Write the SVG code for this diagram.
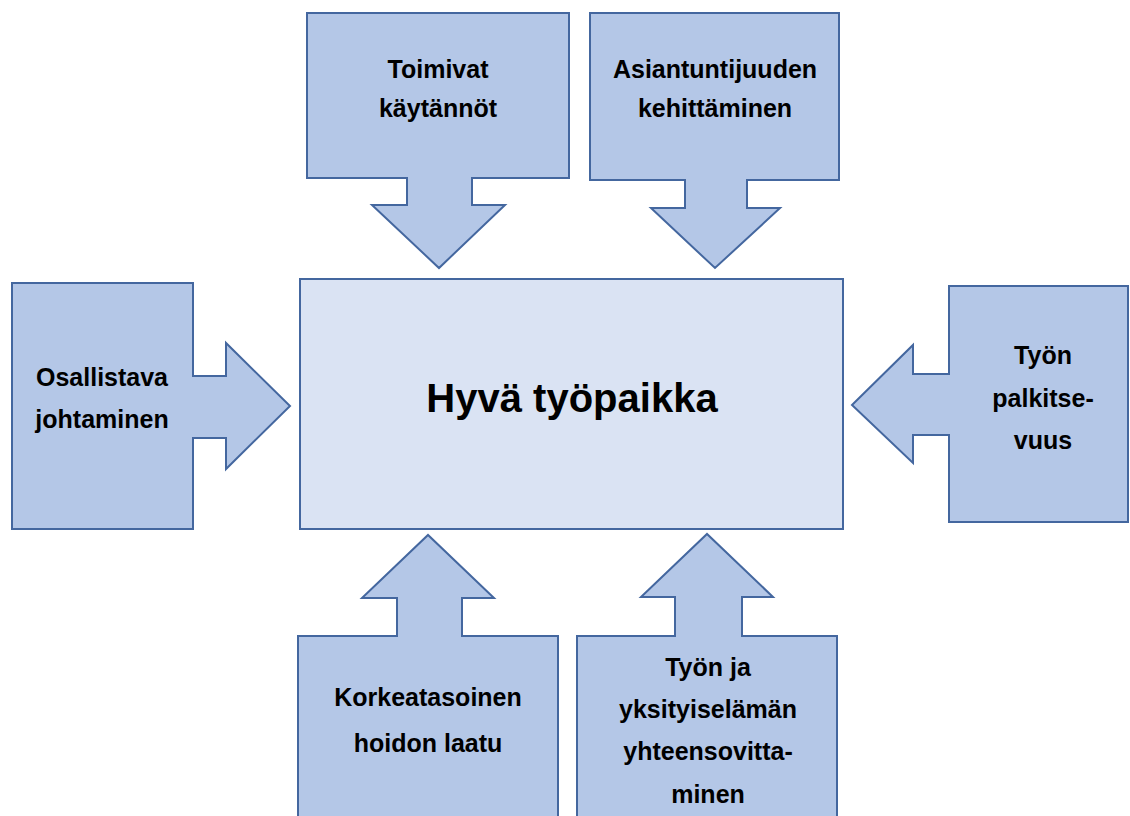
<svg xmlns="http://www.w3.org/2000/svg" width="1130" height="816" viewBox="0 0 1130 816">
<style>
.c{fill:#B4C7E7;stroke:#44679F;stroke-width:2;stroke-linejoin:miter}
.m{fill:#DAE3F3;stroke:#44679F;stroke-width:2}
text{font-family:"Liberation Sans",Arial,sans-serif;font-weight:bold;fill:#000;text-anchor:middle}
.s{font-size:25px}
.b{font-size:40px}
</style>
<rect width="1130" height="816" fill="#fff"/>
<g id="center">
<rect class="m" x="300" y="279" width="543" height="250"/>
<text class="b" x="572" y="412">Hyvä työpaikka</text>
</g>
<g id="connectors"></g>
<g id="toimivat">
<polygon class="c" points="307,13 569,13 569,178 472,178 472,205 505,205 439,268 372,205 407,205 407,178 307,178"/>
<text class="s" x="438" y="78">Toimivat</text>
<text class="s" x="438" y="117">käytännöt</text>
</g>
<g id="asiantuntijuus">
<polygon class="c" points="590,13 839,13 839,180 747,180 747,208 780,208 715,268 651,208 685,208 685,180 590,180"/>
<text class="s" x="715" y="78">Asiantuntijuuden</text>
<text class="s" x="715" y="117">kehittäminen</text>
</g>
<g id="osallistava">
<polygon class="c" points="12,283 193,283 193,376 226,376 226,343 290,406 226,469 226,438 193,438 193,529 12,529"/>
<text class="s" x="102" y="386">Osallistava</text>
<text class="s" x="102" y="428">johtaminen</text>
</g>
<g id="palkitsevuus">
<polygon class="c" points="949,286 1128,286 1128,522 949,522 949,435 913,435 913,463 852,405 913,345 913,374 949,374"/>
<text class="s" x="1043" y="364">Työn</text>
<text class="s" x="1043" y="407">palkitse-</text>
<text class="s" x="1043" y="449">vuus</text>
</g>
<g id="hoidon-laatu">
<polygon class="c" points="298,636 397,636 397,598 362,598 428,535 494,598 462,598 462,636 558,636 558,822 298,822"/>
<text class="s" x="428" y="706">Korkeatasoinen</text>
<text class="s" x="428" y="752">hoidon laatu</text>
</g>
<g id="yhteensovittaminen">
<polygon class="c" points="577,636 675,636 675,597 641,597 707,534 773,597 742,597 742,636 837,636 837,822 577,822"/>
<text class="s" x="708" y="676">Työn ja</text>
<text class="s" x="708" y="718">yksityiselämän</text>
<text class="s" x="708" y="760">yhteensovitta-</text>
<text class="s" x="708" y="803">minen</text>
</g>
</svg>
